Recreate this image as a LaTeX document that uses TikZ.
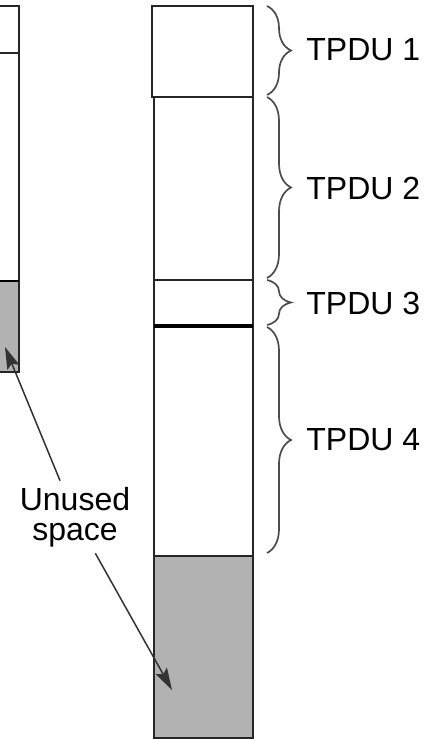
\documentclass[tikz,border=0pt]{standalone}
\usepackage{fontspec}
\setmainfont{Liberation Sans}
\usetikzlibrary{arrows.meta,decorations.pathreplacing}

\begin{document}
\begin{tikzpicture}[x=0.5pt, y=-0.5pt,
        seg/.style={draw=black!85, line width=0.75pt, fill=white, anchor=north west,
                inner sep=0pt, outer sep=0pt},
        free/.style={seg, fill=black!30},
        brc/.style={decorate, decoration={brace, amplitude=12pt}, draw=black!70, line width=0.85pt},
        lbl/.style={anchor=west, inner sep=0pt, font=\fontsize{16}{18}\selectfont},
        arrow/.style={-{Stealth[length=11pt, width=6.5pt, inset=2pt]}, draw=black!80, line width=0.75pt}
    ]
    \useasboundingbox (0,0) rectangle (433,739);
    \clip (0,0) rectangle (433,739);

    % left buffer, only partly visible
    \node[seg, minimum width=29.5pt, minimum height=23.5pt] (l1) at (-40,6) {};
    \node[seg, minimum width=29.5pt, minimum height=114pt] (l2) at (-40,53) {};
    \node[free, minimum width=29.5pt, minimum height=45.5pt] (lfree) at (-40,281) {};
    \draw[line width=1.4pt] (lfree.north west) -- (lfree.north east);

    % right buffer
    \node[seg, minimum width=50.5pt, minimum height=45.5pt] (t1) at (152,6) {};
    \node[seg, minimum width=49.5pt, minimum height=91.5pt] (t2) at (154,97) {};
    \node[seg, minimum width=49.5pt, minimum height=23pt] (t3) at (154,280) {};
    \node[seg, minimum width=49.5pt, minimum height=115pt] (t4) at (154,326) {};
    \node[free, minimum width=49.5pt, minimum height=91pt] (rfree) at (154,556) {};
    \draw[line width=1.6pt] (t4.north west) -- (t4.north east);

    % braces
    \draw[brc] (267,6) -- (267,95);
    \draw[brc] (267,97) -- (267,278);
    \draw[brc] (267,280) -- (267,325);
    \draw[brc] (267,327) -- (267,553);
    \node[lbl] (p1) at (306,50) {TPDU 1};
    \node[lbl] (p2) at (306,188) {TPDU 2};
    \node[lbl] (p3) at (306,303) {TPDU 3};
    \node[lbl] (p4) at (306,440) {TPDU 4};

    \node[align=center, inner sep=3pt, font=\fontsize{16}{15}\selectfont] (unused) at (75,517) {Unused\\space};
    \coordinate (tipl) at (5,347);
    \coordinate (tipr) at (172,690);
    \draw[arrow] (unused) -- (tipl);
    \draw[arrow] (unused) -- (tipr);
\end{tikzpicture}
\end{document}
